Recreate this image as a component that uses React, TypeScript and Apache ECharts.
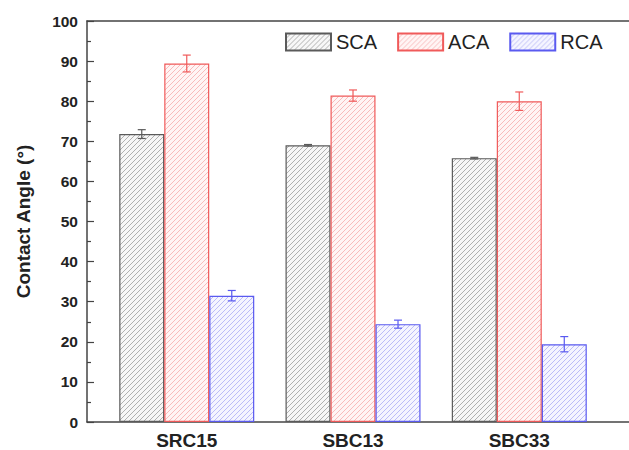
import React, { useEffect, useRef } from "react";
import * as echarts from "echarts";

const categories = ["SRC15", "SBC13", "SBC33"];
const seriesNames = ["SCA", "ACA", "RCA"];
const scaValues = [71.8, 69.0, 65.8];
const scaErrors = [1.1, 0.2, 0.2];
const acaValues = [89.4, 81.4, 80.0];
const acaErrors = [2.1, 1.4, 2.3];
const rcaValues = [31.5, 24.4, 19.4];
const rcaErrors = [1.3, 1.0, 1.9];
const yTicks = [0, 10, 20, 30, 40, 50, 60, 70, 80, 90, 100];

const styles = [
  { border: "#5a5a5a", fill: "#f7f7f7", hatch: "#b0b0b0" },
  { border: "#f05a5a", fill: "#fff5f5", hatch: "#f8bcbc" },
  { border: "#5a5af0", fill: "#f5f5ff", hatch: "#bcbcf7" },
];

const BAR_W = 45;
const FONT = "Arial, 'Liberation Sans', sans-serif";

function makeHatch(fill: string, line: string) {
  const s = 5;
  const c = document.createElement("canvas");
  c.width = s;
  c.height = s;
  const ctx = c.getContext("2d")!;
  ctx.fillStyle = fill;
  ctx.fillRect(0, 0, s, s);
  ctx.strokeStyle = line;
  ctx.lineWidth = 1;
  ctx.beginPath();
  ctx.moveTo(-1, 1);
  ctx.lineTo(1, -1);
  ctx.moveTo(0, s);
  ctx.lineTo(s, 0);
  ctx.moveTo(s - 1, s + 1);
  ctx.lineTo(s + 1, s - 1);
  ctx.stroke();
  return { image: c, repeat: "repeat" };
}

export default function App() {
  const ref = useRef<HTMLDivElement>(null);
  useEffect(() => {
    if (!ref.current) return;
    const chart = echarts.init(ref.current, undefined, { renderer: "svg" });
    const values = [scaValues, acaValues, rcaValues];
    const errors = [scaErrors, acaErrors, rcaErrors];

    const barSeries = seriesNames.map((name, si) => ({
      name,
      type: "bar",
      barWidth: BAR_W,
      barGap: "0%",
      data: values[si].map((v, i) => [i + 1, v]),
      itemStyle: {
        color: makeHatch(styles[si].fill, styles[si].hatch),
        borderColor: styles[si].border,
        borderWidth: 1.2,
      },
      z: 2,
    }));

    const errSeries = seriesNames.map((name, si) => ({
      name: name + "-err",
      type: "custom",
      z: 5,
      data: values[si].map((v, i) => [i + 1, v, errors[si][i]]),
      encode: { x: 0, y: 1 },
      renderItem: (params: any, api: any) => {
        const x = api.value(0);
        const y = api.value(1);
        const e = api.value(2);
        const dx = (si - 1) * BAR_W;
        const top = api.coord([x, y + e]);
        const bot = api.coord([x, y - e]);
        const cx = top[0] + dx;
        const hw = 4;
        const st = { stroke: styles[si].border, lineWidth: 1.2, fill: "none" };
        return {
          type: "group",
          children: [
            { type: "line", shape: { x1: cx, y1: top[1], x2: cx, y2: bot[1] }, style: st },
            { type: "line", shape: { x1: cx - hw, y1: top[1], x2: cx + hw, y2: top[1] }, style: st },
            { type: "line", shape: { x1: cx - hw, y1: bot[1], x2: cx + hw, y2: bot[1] }, style: st },
          ],
        };
      },
    }));

    chart.setOption({
      animation: false,
      backgroundColor: "#ffffff",
      grid: { left: 87, right: -2, top: 21, bottom: 28, containLabel: false },
      legend: {
        data: seriesNames,
        left: 280,
        top: 27,
        icon: "rect",
        itemWidth: 45,
        itemHeight: 17,
        itemGap: 20,
        textStyle: { fontFamily: FONT, fontSize: 20, color: "#222" },
      },
      xAxis: [
        {
          type: "value",
          min: 0.4,
          max: 3.66,
          axisLine: { show: true, onZero: false, lineStyle: { color: "#444", width: 1.5 } },
          axisTick: { show: false },
          splitLine: { show: false },
          axisLabel: {
            customValues: [1, 2, 3],
            formatter: (v: number) => categories[Math.round(v) - 1] ?? "",
            fontFamily: FONT,
            fontWeight: "bold",
            fontSize: 19,
            color: "#222",
            margin: 9,
          },
        },
        {
          type: "value",
          position: "top",
          min: 0.4,
          max: 3.66,
          axisLine: { show: true, onZero: false, lineStyle: { color: "#444", width: 1.5 } },
          axisTick: { show: false },
          axisLabel: { show: false },
          splitLine: { show: false },
        },
      ],
      yAxis: {
        type: "value",
        min: 0,
        max: 100,
        interval: 10,
        name: "Contact Angle (°)",
        nameLocation: "middle",
        nameGap: 54,
        nameTextStyle: { fontFamily: FONT, fontWeight: "bold", fontSize: 19, color: "#222" },
        axisLine: { show: true, lineStyle: { color: "#444", width: 1.5 } },
        axisTick: { show: true, inside: true, length: 7, lineStyle: { color: "#444", width: 1.2 } },
        minorTick: { show: true, splitNumber: 2, length: 4, lineStyle: { color: "#444", width: 1.2 } },
        splitLine: { show: false },
        axisLabel: {
          customValues: yTicks,
          fontFamily: FONT,
          fontWeight: "bold",
          fontSize: 15.5,
          color: "#222",
          margin: 9,
        },
      },
      series: [...barSeries, ...errSeries],
    } as any);
    return () => chart.dispose();
  }, []);
  return (
    <div
      ref={ref}
      style={{ position: "fixed", left: 0, top: 0, width: 629, height: 450 }}
    />
  );
}
